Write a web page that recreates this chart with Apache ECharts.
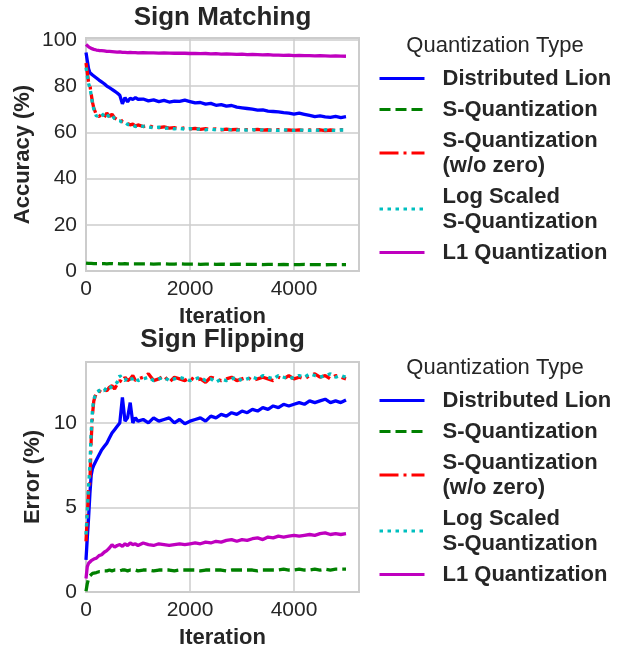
<!DOCTYPE html>
<html>
<head>
<meta charset="utf-8">
<script src="https://cdn.jsdelivr.net/npm/echarts@6/dist/echarts.min.js"></script>
<style>
html,body{margin:0;padding:0;background:#fff;}
#c{width:625px;height:650px;}
</style>
</head>
<body>
<div id="c"></div>
<script>
const iterations = [0,25,50,75,100,125,150,
  200,250,300,350,400,450,500,550,600,650,700,750,800,850,900,950,1000,
  1100,1200,1300,1400,1500,1600,1700,1800,1900,2000,
  2100,2200,2300,2400,2500,2600,2700,2800,2900,3000,
  3100,3200,3300,3400,3500,3600,3700,3800,3900,4000,
  4100,4200,4300,4400,4500,4600,4700,4800,4900,5000];

const seriesNames = ['Distributed Lion','S-Quantization','S-Quantization\n(w/o zero)','Log Scaled\nS-Quantization','L1 Quantization'];
const legendTitle = 'Quantization Type';
const xTicks = [0,2000,4000];
const yTicksTop = [0,20,40,60,80,100];
const yTicksBottom = [0,5,10];

// Sign Matching — Accuracy (%)
const matchLion = [94.5,91,87.5,85.8,85.2,84.8,84.3,
  83.5,82.6,81.8,81.0,80.0,79.3,78.6,77.8,77.0,76.0,72.3,75.0,73.2,74.8,74.2,75.0,74.3,
  74.4,73.6,74.0,73.3,73.8,73.1,73.5,73.4,73.9,73.3,
  72.7,72.9,72.2,72.5,71.7,72.0,71.3,71.6,70.9,70.6,
  70.3,70.0,69.6,69.7,69.2,69.0,68.8,68.5,68.3,67.9,
  68.3,67.8,67.3,66.8,67.1,66.7,66.5,66.9,66.4,66.8];
const matchSQ = [3.4,3.3,3.3,3.3,3.3,3.2,3.2,
  3.2,3.2,3.2,3.2,3.1,3.2,3.2,3.1,3.2,3.1,3.1,3.2,3.1,3.1,3.1,3.1,3.1,
  3.1,3.1,3.0,3.1,3.1,3.0,3.0,3.1,3.0,3.0,
  3.0,2.9,3.0,3.0,2.9,3.0,2.9,2.9,3.0,2.9,
  2.9,2.9,2.9,2.8,2.9,2.9,2.8,2.9,2.8,2.8,
  2.8,2.9,2.8,2.8,2.8,2.7,2.8,2.8,2.8,2.8];
const matchSQnz = [90,86,81.5,80.5,76.5,73,70.5,
  67.5,66.8,67.8,66.5,68.3,66.9,67.8,66.2,65.5,65.8,64.6,64.0,63.8,63.2,63.5,62.7,63.2,
  62.5,62.9,62.2,62.0,62.4,61.8,62.0,61.6,61.9,61.5,
  61.7,61.3,61.6,61.2,61.5,61.0,61.4,61.1,61.3,60.9,
  61.2,61.0,61.3,60.9,61.1,60.8,61.2,60.9,61.0,60.8,
  61.1,60.8,61.0,60.9,61.1,60.7,61.0,60.8,61.1,60.9];
const matchLog = [88,84.5,81,79.5,76,72.5,70,
  67,67.5,68.2,66.8,67.9,66.5,67.3,65.9,65.2,65.0,64.2,64.3,63.4,63.0,63.1,62.5,62.8,
  62.6,62.3,62.0,62.2,61.7,61.9,61.5,61.7,61.4,61.6,
  61.2,61.5,61.1,61.4,61.0,61.3,61.0,61.2,60.9,61.1,
  60.9,61.2,60.8,61.1,60.9,61.0,60.8,61.1,60.9,60.8,
  61.0,60.9,60.8,61.0,60.8,61.1,60.9,60.8,61.0,61.0];
const matchL1 = [98.0,97.6,97.0,96.6,96.3,96.0,95.9,
  95.6,95.4,95.3,95.2,95.0,95.0,94.9,94.8,94.7,94.8,94.6,94.6,94.5,94.6,94.5,94.5,94.4,
  94.5,94.4,94.4,94.3,94.4,94.3,94.2,94.3,94.2,94.1,
  94.1,94.0,94.1,93.9,94.0,93.8,93.9,93.8,93.7,93.8,
  93.6,93.7,93.6,93.5,93.6,93.4,93.4,93.3,93.4,93.2,
  93.3,93.2,93.2,93.1,93.2,93.1,93.0,93.1,93.0,92.9];

// Sign Flipping — Error (%)
const flipLion = [1.9,3.2,4.4,5.8,6.9,7.3,7.5,
  7.8,8.1,8.4,8.6,8.8,9.1,9.4,9.6,9.8,10.0,11.5,10.1,10.3,11.2,10.0,10.3,10.1,
  10.2,10.0,10.3,10.1,10.2,10.3,10.0,10.2,9.95,10.1,
  10.2,10.3,10.1,10.4,10.3,10.5,10.4,10.6,10.5,10.7,
  10.6,10.8,10.7,10.9,10.8,11.0,10.9,11.1,11.0,11.1,
  11.2,11.1,11.3,11.2,11.3,11.4,11.2,11.3,11.2,11.35];
const flipSQ = [0.05,0.5,0.8,0.95,1.05,1.1,1.1,
  1.15,1.2,1.2,1.25,1.25,1.3,1.25,1.3,1.3,1.25,1.3,1.3,1.25,1.3,1.3,1.3,1.25,
  1.3,1.3,1.25,1.3,1.3,1.3,1.25,1.3,1.3,1.3,
  1.3,1.25,1.3,1.3,1.3,1.3,1.25,1.3,1.3,1.3,
  1.3,1.3,1.25,1.3,1.3,1.3,1.3,1.35,1.3,1.3,
  1.35,1.3,1.3,1.35,1.3,1.35,1.3,1.35,1.35,1.35];
const flipSQnz = [3.0,4.5,6.0,6.5,9.0,10.5,11.3,
  11.8,11.9,11.8,12.0,11.9,12.1,12.2,12.0,12.3,12.5,12.4,12.7,12.5,12.6,12.8,12.5,12.6,
  12.7,12.9,12.5,12.6,12.8,12.4,12.7,12.6,12.5,12.7,
  12.5,12.6,12.4,12.7,12.6,12.5,12.6,12.7,12.5,12.6,
  12.7,12.5,12.6,12.7,12.6,12.5,12.7,12.6,12.8,12.6,
  12.7,12.6,12.8,12.9,12.7,12.8,12.6,12.8,12.7,12.6];
const flipLog = [3.4,4.8,6.3,7.5,9.5,10.8,11.4,
  11.8,11.9,12.0,11.9,12.1,12.0,12.2,12.3,12.4,12.8,12.6,12.5,12.7,12.6,12.6,12.7,12.5,
  12.6,12.7,12.5,12.6,12.7,12.5,12.6,12.7,12.6,12.5,
  12.6,12.7,12.5,12.6,12.4,12.6,12.5,12.6,12.7,12.5,
  12.6,12.7,12.6,12.8,12.7,12.6,12.8,12.7,12.6,12.7,
  12.8,12.7,12.9,12.8,12.7,12.8,12.9,12.7,12.8,12.7];
const flipL1 = [0.8,1.5,1.7,1.8,1.85,1.9,1.95,
  2.0,2.15,2.2,2.35,2.45,2.6,2.8,2.65,2.75,2.8,2.7,2.85,2.75,2.9,2.8,2.85,2.75,
  2.9,2.8,2.75,2.85,2.8,2.75,2.8,2.85,2.8,2.85,
  2.9,2.85,2.95,2.9,3.0,2.95,3.05,3.1,3.0,3.1,
  3.05,3.15,3.2,3.1,3.25,3.2,3.3,3.25,3.3,3.35,
  3.3,3.35,3.4,3.35,3.45,3.5,3.4,3.45,3.4,3.45];

const colors = ['#0000ff','#008000','#ff0000','#00bfbf','#bf00bf'];
const dashes = ['solid',[11,5],[19,5,3,5],[3.5,4.5],'solid'];
const FONT = 'Liberation Sans, Arial, sans-serif';
const TXT = '#262626';

function pairs(ys){ return iterations.map((x,i)=>[x, ys[i]]); }

const topData = [matchLion, matchSQ, matchSQnz, matchLog, matchL1];
const botData = [flipLion, flipSQ, flipSQnz, flipLog, flipL1];

function mkSeries(data, idx){
  return data.map((d,i)=>({
    name: seriesNames[i], type:'line', xAxisIndex: idx, yAxisIndex: idx,
    data: pairs(d), symbol:'none', showSymbol:false, animation:false,
    lineStyle:{color:colors[i], width:3.3, type:dashes[i]},
    itemStyle:{color:colors[i]}, z: 2+i
  }));
}

function xAxis(idx){
  return {
    type:'value', gridIndex: idx, min:0, max:5250, interval:2000,
    name:'Iteration', nameLocation:'middle', nameGap:35,
    nameTextStyle:{fontFamily:FONT, fontWeight:'bold', fontSize:22, color:TXT},
    axisLine:{show:false}, axisTick:{show:false},
    axisLabel:{fontFamily:FONT, fontSize:21, color:TXT, margin:8,
      formatter:v=> xTicks.includes(v) ? String(v) : ''},
    splitLine:{show:true, lineStyle:{color:'#cccccc', width:1.5}}
  };
}
function yAxis(idx, max, interval, ticks, name, gap){
  return {
    type:'value', gridIndex: idx, min:0, max:max, interval:interval,
    name:name, nameLocation:'middle', nameGap:gap,
    nameTextStyle:{fontFamily:FONT, fontWeight:'bold', fontSize:22, color:TXT},
    axisLine:{show:false}, axisTick:{show:false},
    axisLabel:{fontFamily:FONT, fontSize:21, color:TXT, margin:9,
      formatter:v=> ticks.includes(v) ? String(v) : ''},
    splitLine:{show:true, lineStyle:{color:'#cccccc', width:1.5}}
  };
}
function legend(top){
  return {
    orient:'vertical', left:378, top:top, padding:0, itemWidth:45, itemHeight:14, itemGap:6,
    data: seriesNames,
    itemStyle:{opacity:0},
    lineStyle:{width:3},
    textStyle:{fontFamily:FONT, fontWeight:'bold', fontSize:22, color:TXT, lineHeight:25, padding:[0,0,0,13]}
  };
}

const chart = echarts.init(document.getElementById('c'), null, {renderer:'canvas'});
chart.setOption({
  backgroundColor:'#ffffff',
  animation:false,
  grid:[
    {left:86, top:38, width:273, height:233, show:true, borderColor:'#cccccc', borderWidth:2, backgroundColor:'transparent'},
    {left:86, top:362, width:273, height:231, show:true, borderColor:'#cccccc', borderWidth:2, backgroundColor:'transparent'}
  ],
  xAxis:[xAxis(0), xAxis(1)],
  yAxis:[yAxis(0, 100.8, 20, yTicksTop, 'Accuracy (%)', 52), yAxis(1, 13.6, 5, yTicksBottom, 'Error (%)', 42)],
  legend:[legend(66), legend(388)],
  graphic:[
    {type:'text', x:222.5, y:18, style:{text:'Sign Matching', fontFamily:FONT, fontWeight:'bold', fontSize:26, fill:TXT, textAlign:'center', textVerticalAlign:'middle'}},
    {type:'text', x:222.5, y:340, style:{text:'Sign Flipping', fontFamily:FONT, fontWeight:'bold', fontSize:26, fill:TXT, textAlign:'center', textVerticalAlign:'middle'}},
    {type:'text', x:495, y:46, style:{text:legendTitle, fontFamily:FONT, fontSize:22, fill:TXT, textAlign:'center', textVerticalAlign:'middle'}},
    {type:'text', x:495, y:368, style:{text:legendTitle, fontFamily:FONT, fontSize:22, fill:TXT, textAlign:'center', textVerticalAlign:'middle'}}
  ],
  series: mkSeries(topData,0).concat(mkSeries(botData,1))
});
</script>
</body>
</html>
